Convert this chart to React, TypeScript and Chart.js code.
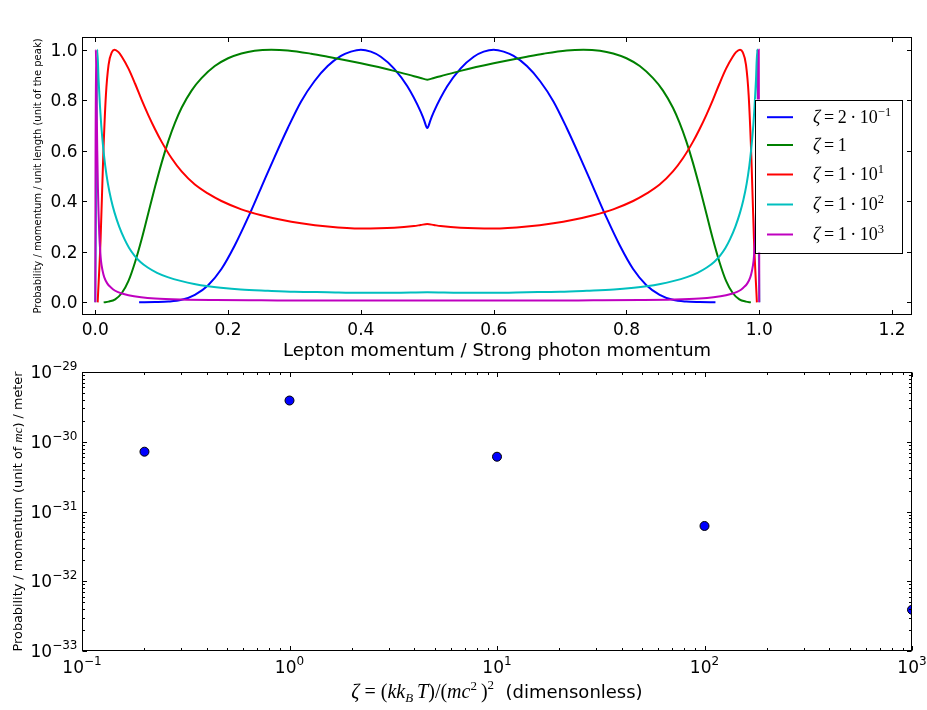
import React, { useEffect, useRef } from 'react';
import { Chart, registerables } from 'chart.js';

Chart.register(...registerables);

// ---------------- top chart data (normalised spectra) ----------------
const blueX = [0.066, 0.09, 0.11, 0.13, 0.15, 0.17, 0.19, 0.21, 0.23, 0.25, 0.27, 0.29, 0.31, 0.33, 0.35, 0.37, 0.385, 0.40, 0.415, 0.43, 0.45, 0.47, 0.49, 0.495, 0.50, 0.505, 0.51, 0.53, 0.55, 0.57, 0.585, 0.60, 0.615, 0.63, 0.65, 0.67, 0.69, 0.71, 0.73, 0.75, 0.77, 0.79, 0.81, 0.83, 0.85, 0.87, 0.89, 0.91, 0.934];
const blueY = [0, 0.001, 0.003, 0.01, 0.03, 0.068, 0.132, 0.225, 0.335, 0.455, 0.575, 0.69, 0.795, 0.875, 0.935, 0.975, 0.992, 1.0, 0.992, 0.972, 0.925, 0.855, 0.755, 0.7225, 0.69, 0.7225, 0.755, 0.855, 0.925, 0.972, 0.992, 1.0, 0.992, 0.975, 0.935, 0.875, 0.795, 0.69, 0.575, 0.455, 0.335, 0.225, 0.132, 0.068, 0.03, 0.01, 0.003, 0.001, 0];

const greenX = [0.0126, 0.02, 0.03, 0.04, 0.05, 0.06, 0.07, 0.08, 0.09, 0.10, 0.11, 0.12, 0.13, 0.145, 0.16, 0.18, 0.20, 0.22, 0.24, 0.265, 0.29, 0.325, 0.35, 0.40, 0.45, 0.48, 0.49, 0.50, 0.51, 0.52, 0.55, 0.60, 0.65, 0.675, 0.71, 0.735, 0.76, 0.78, 0.80, 0.82, 0.84, 0.855, 0.87, 0.88, 0.89, 0.90, 0.91, 0.92, 0.93, 0.94, 0.95, 0.96, 0.97, 0.98, 0.9874];
const greenY = [0, 0.003, 0.012, 0.037, 0.085, 0.16, 0.252, 0.355, 0.457, 0.553, 0.638, 0.71, 0.77, 0.838, 0.887, 0.935, 0.966, 0.985, 0.996, 1.0, 0.997, 0.984, 0.972, 0.946, 0.916, 0.895, 0.888, 0.881, 0.888, 0.895, 0.916, 0.946, 0.972, 0.984, 0.997, 1.0, 0.996, 0.985, 0.966, 0.935, 0.887, 0.838, 0.77, 0.71, 0.638, 0.553, 0.457, 0.355, 0.252, 0.16, 0.085, 0.037, 0.012, 0.003, 0];

const redX = [0.0036, 0.008, 0.012, 0.016, 0.02, 0.025, 0.029, 0.035, 0.04, 0.05, 0.06, 0.07, 0.08, 0.09, 0.10, 0.115, 0.13, 0.15, 0.17, 0.19, 0.22, 0.25, 0.28, 0.31, 0.35, 0.40, 0.45, 0.48, 0.49, 0.50, 0.51, 0.52, 0.55, 0.60, 0.65, 0.69, 0.72, 0.75, 0.78, 0.81, 0.83, 0.85, 0.87, 0.885, 0.90, 0.91, 0.92, 0.93, 0.94, 0.95, 0.96, 0.965, 0.971, 0.975, 0.98, 0.984, 0.988, 0.992, 0.9964];
const redY = [0, 0.25, 0.58, 0.82, 0.94, 0.99, 1.0, 0.99, 0.972, 0.925, 0.865, 0.8, 0.74, 0.685, 0.635, 0.57, 0.518, 0.466, 0.43, 0.401, 0.368, 0.345, 0.327, 0.313, 0.3, 0.292, 0.295, 0.302, 0.306, 0.31, 0.306, 0.302, 0.295, 0.292, 0.3, 0.313, 0.327, 0.345, 0.368, 0.401, 0.43, 0.466, 0.518, 0.57, 0.635, 0.685, 0.74, 0.8, 0.865, 0.925, 0.972, 0.99, 1.0, 0.99, 0.94, 0.82, 0.58, 0.25, 0];

const cyanX = [0.0, 0.0015, 0.003, 0.005, 0.007, 0.009, 0.012, 0.015, 0.019, 0.024, 0.029, 0.036, 0.044, 0.051, 0.059, 0.068, 0.079, 0.093, 0.109, 0.13, 0.149, 0.17, 0.189, 0.219, 0.26, 0.30, 0.35, 0.40, 0.45, 0.50, 0.55, 0.60, 0.65, 0.70, 0.74, 0.781, 0.811, 0.83, 0.851, 0.87, 0.891, 0.907, 0.921, 0.932, 0.941, 0.949, 0.956, 0.964, 0.971, 0.976, 0.981, 0.985, 0.988, 0.991, 0.993, 0.995, 0.997, 0.9985, 1.0];
const cyanY = [0, 0.5, 1.0, 0.88, 0.78, 0.70, 0.61, 0.54, 0.47, 0.405, 0.355, 0.30, 0.25, 0.215, 0.185, 0.16, 0.138, 0.117, 0.1, 0.084, 0.073, 0.064, 0.058, 0.051, 0.046, 0.042, 0.04, 0.038, 0.038, 0.040, 0.038, 0.038, 0.04, 0.042, 0.046, 0.051, 0.058, 0.064, 0.073, 0.084, 0.1, 0.117, 0.138, 0.16, 0.185, 0.215, 0.25, 0.30, 0.355, 0.405, 0.47, 0.54, 0.61, 0.70, 0.78, 0.88, 1.0, 0.5, 0];

const magentaX = [0.0, 0.0008, 0.002, 0.003, 0.004, 0.005, 0.006, 0.0075, 0.0086, 0.011, 0.0136, 0.018, 0.024, 0.03, 0.039, 0.05, 0.069, 0.09, 0.129, 0.18, 0.25, 0.35, 0.5, 0.65, 0.75, 0.82, 0.871, 0.91, 0.931, 0.95, 0.961, 0.97, 0.976, 0.982, 0.9864, 0.989, 0.9914, 0.9925, 0.994, 0.995, 0.996, 0.997, 0.998, 0.9992, 1.0];
const magentaY = [0, 1.0, 0.8, 0.6, 0.45, 0.35, 0.27, 0.2, 0.164, 0.125, 0.099, 0.075, 0.058, 0.046, 0.036, 0.028, 0.02, 0.015, 0.011, 0.009, 0.008, 0.007, 0.007, 0.007, 0.008, 0.009, 0.011, 0.015, 0.02, 0.028, 0.036, 0.046, 0.058, 0.075, 0.099, 0.125, 0.164, 0.2, 0.27, 0.35, 0.45, 0.6, 0.8, 1.0, 0];

const legendMantissa = ['2', '1', '1', '1', '1'];
const legendExponent = ['\u22121', '', '1', '2', '3'];
const seriesColors = ['#0000ff', '#008000', '#ff0000', '#00bfbf', '#bf00bf'];

const topXTicks = [0, 0.2, 0.4, 0.6, 0.8, 1.0, 1.2];
const topXTickLabels = ['0.0', '0.2', '0.4', '0.6', '0.8', '1.0', '1.2'];
const topYTicks = [0, 0.2, 0.4, 0.6, 0.8, 1.0];
const topYTickLabels = ['0.0', '0.2', '0.4', '0.6', '0.8', '1.0'];

// ---------------- bottom chart data ----------------
const zetaValues = [0.2, 1, 10, 100, 1000];
const probValues = [7.2e-31, 3.9e-30, 6.1e-31, 6.2e-32, 3.9e-33];

const logXMajor = [0.1, 1, 10, 100, 1000];
const logXExponent = ['\u22121', '0', '1', '2', '3'];
const logYMajor = [1e-33, 1e-32, 1e-31, 1e-30, 1e-29];
const logYExponent = ['\u221233', '\u221232', '\u221231', '\u221230', '\u221229'];
const minorMultipliers = [2, 3, 4, 5, 6, 7, 8, 9];

// ---------------- helpers ----------------
const SANS = '"DejaVu Sans", sans-serif';
const SERIF = '"Liberation Serif", "DejaVu Serif", serif';

type Seg = { t: string; f: string; dy?: number };

function segWidth(ctx: CanvasRenderingContext2D, segs: Seg[]) {
  let w = 0;
  for (const s of segs) {
    ctx.font = s.f;
    w += ctx.measureText(s.t).width;
  }
  return w;
}

function drawSegs(ctx: CanvasRenderingContext2D, segs: Seg[], x: number, y: number, align: 'left' | 'center' | 'right') {
  const w = segWidth(ctx, segs);
  let cx = align === 'center' ? x - w / 2 : align === 'right' ? x - w : x;
  ctx.textAlign = 'left';
  ctx.textBaseline = 'alphabetic';
  for (const s of segs) {
    ctx.font = s.f;
    ctx.fillText(s.t, cx, y + (s.dy ?? 0));
    cx += ctx.measureText(s.t).width;
  }
}

type TickMark = { v: number; major: boolean };

function drawFrameAndTicks(chart: any, xTicks: TickMark[], yTicks: TickMark[]) {
  const { ctx, chartArea: a } = chart;
  const xs = chart.scales.x;
  const ys = chart.scales.y;
  const L = Math.round(a.left) + 0.5;
  const R = Math.round(a.right) - 0.5;
  const T = Math.round(a.top) + 0.5;
  const B = Math.round(a.bottom) - 0.5;
  ctx.strokeStyle = '#000';
  ctx.lineWidth = 1;
  ctx.beginPath();
  for (const t of xTicks) {
    const px = Math.round(xs.getPixelForValue(t.v)) + 0.5;
    const len = t.major ? 4.5 : 2.5;
    ctx.moveTo(px, B);
    ctx.lineTo(px, B - len);
    ctx.moveTo(px, T);
    ctx.lineTo(px, T + len);
  }
  for (const t of yTicks) {
    const py = Math.round(ys.getPixelForValue(t.v)) + 0.5;
    const len = t.major ? 4.5 : 2.5;
    ctx.moveTo(L, py);
    ctx.lineTo(L + len, py);
    ctx.moveTo(R, py);
    ctx.lineTo(R - len, py);
  }
  ctx.stroke();
  ctx.strokeRect(L, T, R - L, B - T);
}

// ---------------- plugins ----------------
const topDecor = {
  id: 'topDecor',
  afterDatasetsDraw(chart: any) {
    const { ctx, chartArea: a } = chart;
    const xs = chart.scales.x;
    const ys = chart.scales.y;
    ctx.save();
    drawFrameAndTicks(
      chart,
      topXTicks.map((v) => ({ v, major: true })),
      topYTicks.map((v) => ({ v, major: true }))
    );
    ctx.fillStyle = '#000';
    ctx.font = `17px ${SANS}`;
    ctx.textBaseline = 'alphabetic';
    ctx.textAlign = 'center';
    topXTicks.forEach((v, i) => {
      ctx.fillText(topXTickLabels[i], xs.getPixelForValue(v), a.bottom + 20);
    });
    ctx.textAlign = 'right';
    topYTicks.forEach((v, i) => {
      ctx.fillText(topYTickLabels[i], a.left - 4.5, ys.getPixelForValue(v) + 6);
    });
    // axis titles
    ctx.textAlign = 'center';
    ctx.font = `18px ${SANS}`;
    ctx.fillText('Lepton momentum / Strong photon momentum', (a.left + a.right) / 2, a.bottom + 41);
    ctx.save();
    ctx.translate(41, (a.top + a.bottom) / 2);
    ctx.rotate(-Math.PI / 2);
    ctx.font = `10px ${SANS}`;
    ctx.fillText('Probability / momentum / unit length (unit of the peak)', 0, 0);
    ctx.restore();

    // legend
    const boxR = a.right - 10;
    const boxL = boxR - 147;
    const boxT = (a.top + a.bottom) / 2 - 76.5;
    const boxH = 153;
    ctx.fillStyle = '#fff';
    ctx.fillRect(boxL, boxT, boxR - boxL, boxH);
    ctx.strokeStyle = '#000';
    ctx.lineWidth = 1;
    ctx.strokeRect(Math.round(boxL) + 0.5, Math.round(boxT) + 0.5, Math.round(boxR - boxL), boxH);
    const rows = [17.7, 45.5, 75, 105, 135];
    legendMantissa.forEach((m, i) => {
      const y = boxT + rows[i];
      ctx.strokeStyle = seriesColors[i];
      ctx.lineWidth = 2;
      ctx.beginPath();
      ctx.moveTo(boxL + 12, y);
      ctx.lineTo(boxL + 38, y);
      ctx.stroke();
      const rm = `18px ${SERIF}`;
      const segs: Seg[] = [
        { t: '\u03b6', f: `italic 18px ${SERIF}` },
        { t: '\u2009=\u2009', f: rm },
        { t: m, f: rm },
      ];
      if (legendExponent[i]) {
        segs.push({ t: '\u2009\u00b7\u2009', f: rm });
        segs.push({ t: '10', f: rm });
        segs.push({ t: legendExponent[i], f: `12.5px ${SERIF}`, dy: -7 });
      }
      ctx.fillStyle = '#000';
      drawSegs(ctx, segs, boxL + 58, y + 5.5, 'left');
    });
    ctx.restore();
  },
};

const bottomDecor = {
  id: 'bottomDecor',
  afterDatasetsDraw(chart: any) {
    const { ctx, chartArea: a } = chart;
    const xs = chart.scales.x;
    const ys = chart.scales.y;
    ctx.save();
    const xt: TickMark[] = [];
    logXMajor.forEach((v, i) => {
      xt.push({ v, major: true });
      if (i < logXMajor.length - 1) minorMultipliers.forEach((m) => xt.push({ v: v * m, major: false }));
    });
    const yt: TickMark[] = [];
    logYMajor.forEach((v, i) => {
      yt.push({ v, major: true });
      if (i < logYMajor.length - 1) minorMultipliers.forEach((m) => yt.push({ v: v * m, major: false }));
    });
    drawFrameAndTicks(chart, xt, yt);

    ctx.fillStyle = '#000';
    const main = `17px ${SANS}`;
    const sup = `12px ${SANS}`;
    logXMajor.forEach((v, i) => {
      drawSegs(ctx, [{ t: '10', f: main }, { t: logXExponent[i], f: sup, dy: -8 }], xs.getPixelForValue(v), a.bottom + 22, 'center');
    });
    logYMajor.forEach((v, i) => {
      drawSegs(ctx, [{ t: '10', f: main }, { t: logYExponent[i], f: sup, dy: -8 }], a.left - 4.5, ys.getPixelForValue(v) + 6, 'right');
    });

    // x title
    const it = `italic 20px ${SERIF}`;
    const rm = `20px ${SERIF}`;
    const itS = `italic 13px ${SERIF}`;
    const rmS = `13px ${SERIF}`;
    drawSegs(
      ctx,
      [
        { t: '\u03b6', f: it },
        { t: ' = ', f: rm },
        { t: '(', f: rm },
        { t: 'kk', f: it },
        { t: 'B', f: itS, dy: 4 },
        { t: '\u2009T', f: it },
        { t: ')/(', f: rm },
        { t: 'mc', f: it },
        { t: '2', f: rmS, dy: -8 },
        { t: '\u2009)', f: rm },
        { t: '2', f: rmS, dy: -9 },
        { t: '  (dimensonless)', f: `18px ${SANS}` },
      ],
      (a.left + a.right) / 2,
      a.bottom + 47,
      'center'
    );

    // y title
    ctx.save();
    ctx.translate(21.5, (a.top + a.bottom) / 2);
    ctx.rotate(-Math.PI / 2);
    const ys12 = `12.8px ${SANS}`;
    drawSegs(
      ctx,
      [
        { t: 'Probability / momentum (unit of ', f: ys12 },
        { t: 'mc', f: `italic 13px ${SERIF}` },
        { t: ') / meter', f: ys12 },
      ],
      0,
      0,
      'center'
    );
    ctx.restore();
    ctx.restore();
  },
};

const hiddenAxis = {
  grid: { display: false, drawTicks: false },
  border: { display: false },
  ticks: { display: false },
};

function topConfig(): any {
  const xs = [blueX, greenX, redX, cyanX, magentaX];
  const ysArr = [blueY, greenY, redY, cyanY, magentaY];
  return {
    type: 'line',
    data: {
      datasets: xs.map((xArr, i) => ({
        label: 'zeta' + i,
        data: xArr.map((x, j) => ({ x, y: ysArr[i][j] })),
        borderColor: seriesColors[i],
        backgroundColor: seriesColors[i],
        borderWidth: 2,
        pointRadius: 0,
        fill: false,
        tension: 0,
        cubicInterpolationMode: 'monotone',
        order: 5 - i,
      })),
    },
    options: {
      animation: false,
      responsive: false,
      maintainAspectRatio: false,
      layout: { padding: { top: 37, right: 15, left: 0, bottom: 0 } },
      plugins: { legend: { display: false }, tooltip: { enabled: false } },
      events: [],
      scales: {
        x: {
          type: 'linear',
          min: -0.02,
          max: 1.23,
          ...hiddenAxis,
          afterFit: (s: any) => {
            s.height = 55;
          },
        },
        y: {
          type: 'linear',
          min: -0.05,
          max: 1.05,
          ...hiddenAxis,
          afterFit: (s: any) => {
            s.width = 82;
          },
        },
      },
    },
    plugins: [topDecor],
  };
}

function bottomConfig(): any {
  return {
    type: 'scatter',
    data: {
      datasets: [
        {
          label: 'probability',
          data: zetaValues.map((x, i) => ({ x, y: probValues[i] })),
          backgroundColor: '#0000ff',
          borderColor: '#000',
          borderWidth: 1,
          pointRadius: 4.5,
          pointHoverRadius: 4.5,
        },
      ],
    },
    options: {
      animation: false,
      responsive: false,
      maintainAspectRatio: false,
      layout: { padding: { top: 22, right: 15, left: 0, bottom: 0 } },
      plugins: { legend: { display: false }, tooltip: { enabled: false } },
      events: [],
      scales: {
        x: {
          type: 'logarithmic',
          min: 0.1,
          max: 1000,
          ...hiddenAxis,
          afterFit: (s: any) => {
            s.height = 59;
          },
        },
        y: {
          type: 'logarithmic',
          min: 1e-33,
          max: 1e-29,
          ...hiddenAxis,
          afterFit: (s: any) => {
            s.width = 82;
          },
        },
      },
    },
    plugins: [bottomDecor],
  };
}

export default function App() {
  const topRef = useRef<HTMLCanvasElement>(null);
  const botRef = useRef<HTMLCanvasElement>(null);
  useEffect(() => {
    const c1 = new Chart(topRef.current as HTMLCanvasElement, topConfig());
    const c2 = new Chart(botRef.current as HTMLCanvasElement, bottomConfig());
    return () => {
      c1.destroy();
      c2.destroy();
    };
  }, []);
  return (
    <div style={{ position: 'absolute', left: 0, top: 0, width: 927, height: 710, background: '#fff', overflow: 'hidden' }}>
      <canvas ref={topRef} width={927} height={370} style={{ position: 'absolute', left: 0, top: 0, width: 927, height: 370 }} />
      <canvas ref={botRef} width={927} height={360} style={{ position: 'absolute', left: 0, top: 350, width: 927, height: 360 }} />
    </div>
  );
}
